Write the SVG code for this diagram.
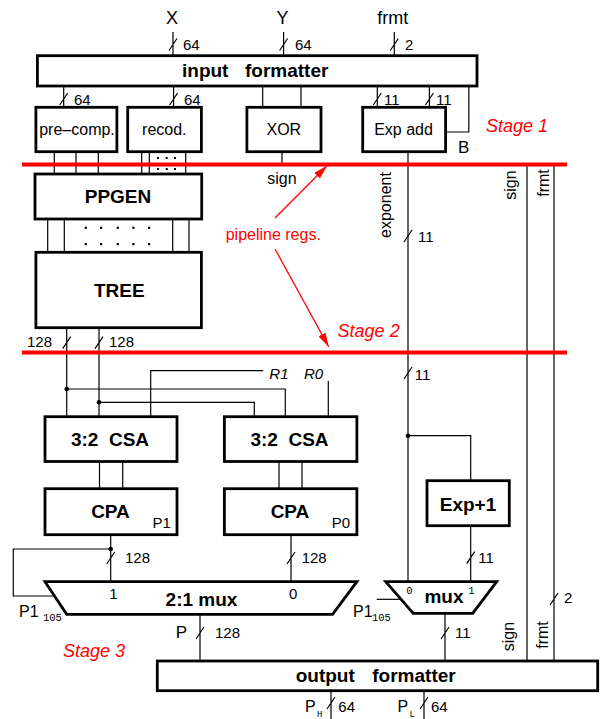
<svg xmlns="http://www.w3.org/2000/svg" width="605" height="719" viewBox="0 0 605 719">
<defs>
<style>
.box{fill:#fff;stroke:#000;stroke-width:2.8}
.w{fill:none;stroke:#000;stroke-width:1.2}
.reg{stroke:#f00;stroke-width:4}
.ar{fill:none;stroke:#f00;stroke-width:1.3}
text{font-family:"Liberation Sans",Arial,sans-serif;fill:#000}
.t{font-size:16px}
.n{font-size:15px}
.b{font-size:19px;font-weight:bold}
.big{font-size:18px}
.stg{font-size:18px;font-style:italic;fill:#f00}
.red{font-size:16px;fill:#f00}
.mono{font-family:"Liberation Mono","DejaVu Sans Mono",monospace;font-size:10.5px}
.m{text-anchor:middle}
.dot{fill:#000}
</style>
<marker id="ah" markerUnits="userSpaceOnUse" viewBox="0 0 14 8" refX="14" refY="4" markerWidth="14" markerHeight="8" orient="auto">
<path d="M0,0 L14,4 L0,8 z" fill="#f00"/>
</marker>
</defs>
<rect width="605" height="719" fill="#fff"/>

<g id="connectors">
<path class="w" d="M173,32 V55.7 M169,50.5 L177,38.5"/>
<path class="w" d="M283.6,32 V55.7 M279.6,50.5 L287.6,38.5"/>
<path class="w" d="M394.3,32 V55.7 M390.3,50.5 L398.3,38.5"/>
<path class="w" d="M63.7,86 V107.3 M59.7,105 L67.7,93"/>
<path class="w" d="M173.6,86 V107.3 M169.6,105 L177.6,93"/>
<path class="w" d="M262.7,86 V107.3 M301,86 V107.3"/>
<path class="w" d="M377.3,86 V107.3 M373.3,105 L381.3,93"/>
<path class="w" d="M429.4,86 V107.3 M425.4,105 L433.4,93"/>
<path class="w" d="M468.8,86 V132 H445.6"/>
<path class="w" d="M54.3,151.7 V174 M76,151.7 V174 M98.3,151.7 V174"/>
<path class="w" d="M141.7,151.7 V174 M149.3,151.7 V174 M185.7,151.7 V174"/>
<g class="dot">
<rect x="157" y="157" width="2" height="2"/><rect x="165.7" y="157" width="2" height="2"/><rect x="174" y="157" width="2" height="2"/>
<rect x="157" y="168" width="2" height="2"/><rect x="165.7" y="168" width="2" height="2"/><rect x="174" y="168" width="2" height="2"/>
</g>
<path class="w" d="M282,151.7 V164"/>
<path class="w" d="M47.7,219 V252.3 M64.3,219 V252.3 M172.7,219 V252.3 M189,219 V252.3"/>
<g class="dot">
<rect x="84.7" y="226.7" width="2.2" height="2.2"/><rect x="100" y="226.7" width="2.2" height="2.2"/><rect x="116.7" y="226.7" width="2.2" height="2.2"/><rect x="132.3" y="226.7" width="2.2" height="2.2"/><rect x="148" y="226.7" width="2.2" height="2.2"/>
<rect x="84.7" y="243" width="2.2" height="2.2"/><rect x="100" y="243" width="2.2" height="2.2"/><rect x="116.7" y="243" width="2.2" height="2.2"/><rect x="132.3" y="243" width="2.2" height="2.2"/><rect x="148" y="243" width="2.2" height="2.2"/>
</g>
<path class="w" d="M66.7,327.7 V416.7 M62.7,348.7 L70.7,336.7"/>
<path class="w" d="M99,327.7 V416.7 M95,348.7 L103,336.7"/>
<path class="w" d="M66.7,389 H285.3 V416.7"/>
<path class="w" d="M99,402.3 H254.3 V416.7"/>
<circle class="dot" cx="66.7" cy="389" r="2.3"/>
<circle class="dot" cx="99" cy="402.3" r="2.3"/>
<path class="w" d="M263.3,370.7 H150.7 V416.7"/>
<path class="w" d="M328.3,381 V416.7"/>
<path class="w" d="M99.5,461.5 V488.7 M122.7,461.5 V488.7 M279,461.5 V488.7 M302,461.5 V488.7"/>
<path class="w" d="M408,151.7 V581.7"/>
<path class="w" d="M404,242 L412,230 M404,379 L412,367"/>
<path class="w" d="M408,435.7 H470.7 V480.7"/>
<circle class="dot" cx="408" cy="435.7" r="2.3"/>
<path class="w" d="M470.7,525.7 V581.7 M466.7,563.7 L474.7,551.7"/>
<path class="w" d="M527,164 V661 M554,164 V661 M550,605 L558,593"/>
<path class="w" d="M110.7,534.7 V581.7 M106.7,564 L114.7,552"/>
<circle class="dot" cx="110.7" cy="549" r="2.3"/>
<path class="w" d="M110.7,549 H13.3 V596 H54"/>
<path class="w" d="M291,534.7 V581.7 M287,564 L295,552"/>
<path class="w" d="M200,614.3 V661 M196,639 L204,627"/>
<path class="w" d="M445,613.3 V661 M441,639 L449,627"/>
<path class="w" d="M376.7,599.3 H401"/>
<path class="w" d="M331,690.7 V719 M327,709 L335,697"/>
<path class="w" d="M424,690.7 V719 M420,709 L428,697"/>
<path class="reg" d="M22,164.5 H567"/>
<path class="reg" d="M22,352.5 H567"/>
<path class="ar" d="M275,218 L327,165.7" marker-end="url(#ah)"/>
<path class="ar" d="M275,249 L328.7,346.7" marker-end="url(#ah)"/>
</g>

<g id="input-formatter">
<rect class="box" x="37.4" y="55.7" width="439.6" height="30.3"/>
<text class="b" y="76.5"><tspan x="182">input</tspan><tspan x="245">formatter</tspan></text>
</g>
<g id="input-labels">
<text class="big m" x="172" y="24">X</text>
<text class="big m" x="282.5" y="24">Y</text>
<text class="big m" x="392.7" y="24">frmt</text>
<text class="n" x="183" y="50">64</text>
<text class="n" x="295" y="50">64</text>
<text class="n" x="405" y="50">2</text>
<text class="n" x="74" y="105">64</text>
<text class="n" x="184" y="105">64</text>
<text class="n" x="384" y="105">11</text>
<text class="n" x="436" y="105">11</text>
</g>
<g id="pre-comp">
<rect class="box" x="35.9" y="107.3" width="81" height="44.4"/>
<text class="t m" x="77" y="135">pre–comp.</text>
</g>
<g id="recod">
<rect class="box" x="127.7" y="107.3" width="73.7" height="44.4"/>
<text class="t m" x="164.3" y="135">recod.</text>
</g>
<g id="xor">
<rect class="box" x="246.9" y="107.3" width="74.1" height="44.4"/>
<text class="t m" x="283.8" y="135">XOR</text>
</g>
<g id="exp-add">
<rect class="box" x="362.7" y="107.3" width="82.9" height="44.4"/>
<text class="t m" x="403.5" y="135">Exp add</text>
<text style="font-size:17px" x="458" y="153">B</text>
</g>
<g id="ppgen">
<rect class="box" x="35" y="174" width="166.7" height="45"/>
<text class="b m" x="118" y="203">PPGEN</text>
</g>
<g id="tree">
<rect class="box" x="35.9" y="252.3" width="165.5" height="75.4"/>
<text class="b m" x="119.3" y="297">TREE</text>
</g>
<g id="csa1">
<rect class="box" x="45" y="416.7" width="132" height="44.8"/>
<text class="b m" x="110" y="445.7" xml:space="preserve">3:2  CSA</text>
</g>
<g id="csa0">
<rect class="box" x="224.4" y="416.7" width="132.5" height="44.8"/>
<text class="b m" x="289.5" y="445.7" xml:space="preserve">3:2  CSA</text>
</g>
<g id="cpa1">
<rect class="box" x="45" y="488.7" width="132" height="46"/>
<text class="b m" x="110.5" y="518">CPA</text>
<text class="n" x="152.4" y="528.3">P1</text>
</g>
<g id="cpa0">
<rect class="box" x="224.4" y="488.7" width="132.5" height="46"/>
<text class="b m" x="290" y="518">CPA</text>
<text class="n" x="331.8" y="528.3">P0</text>
</g>
<g id="exp-plus-1">
<rect class="box" x="427" y="480.7" width="82.3" height="45"/>
<text class="b m" x="468" y="510.7">Exp+1</text>
</g>
<g id="mux-2-1">
<polygon class="box" points="45,581.7 356.9,581.7 332.6,614.3 66.7,614.3"/>
<text class="n m" x="113.3" y="599">1</text>
<text class="n m" x="293.2" y="599">0</text>
<text class="b m" x="201.5" y="606">2:1 mux</text>
</g>
<g id="mux-exp">
<polygon class="box" points="385.7,581.7 496.7,581.7 472.7,613.3 413.3,613.3"/>
<text class="mono m" x="409.3" y="594">0</text>
<text class="mono m" x="471.3" y="594">1</text>
<text class="b m" x="444" y="603.3">mux</text>
</g>
<g id="output-formatter">
<rect class="box" x="157.3" y="661" width="440.4" height="29.7"/>
<text class="b" y="682.3"><tspan x="295.7">output</tspan><tspan x="372.3">formatter</tspan></text>
</g>
<g id="labels">
<text class="n" x="52" y="347" text-anchor="end">128</text>
<text class="n" x="109" y="347">128</text>
<text class="t" x="391" y="205" text-anchor="middle" transform="rotate(-90 391 205)">exponent</text>
<text class="t" x="515.5" y="185" text-anchor="middle" transform="rotate(-90 515.5 185)">sign</text>
<text class="t" x="549" y="183" text-anchor="middle" transform="rotate(-90 549 183)">frmt</text>
<text class="t" x="514" y="636.5" text-anchor="middle" transform="rotate(-90 514 636.5)">sign</text>
<text class="t" x="548" y="635" text-anchor="middle" transform="rotate(-90 548 635)">frmt</text>
<text class="t m" x="282" y="184">sign</text>
<text class="n" x="418" y="242">11</text>
<text class="n" x="414.7" y="380">11</text>
<text class="n" x="478.3" y="563.3">11</text>
<text class="n" x="125" y="563.3">128</text>
<text class="n" x="301.7" y="563.3">128</text>
<text class="n" x="564" y="603">2</text>
<text style="font-size:15px;font-style:italic" x="269.3" y="379.3">R1</text>
<text style="font-size:15px;font-style:italic" x="304" y="379.3">R0</text>
<text style="font-size:16px" x="19" y="617.3">P1</text>
<text class="mono" x="43" y="620.5">105</text>
<text style="font-size:16px" x="353" y="617">P1</text>
<text class="mono" x="372" y="620.5">105</text>
<text style="font-size:17px" x="175.7" y="638">P</text>
<text class="n" x="215" y="638">128</text>
<text class="n" x="455" y="638">11</text>
<text style="font-size:16px" x="305" y="711.7">P</text>
<text class="mono" style="font-size:9px" x="317" y="717">H</text>
<text class="n" x="338.3" y="711.7">64</text>
<text style="font-size:16px" x="397.5" y="711.7">P</text>
<text class="mono" style="font-size:9px" x="409.5" y="717">L</text>
<text class="n" x="431" y="711.7">64</text>
<text class="red" x="225.7" y="240">pipeline regs.</text>
<text class="stg" x="486" y="132">Stage 1</text>
<text class="stg" x="337.6" y="336.7">Stage 2</text>
<text class="stg" x="63" y="656.7">Stage 3</text>
</g>
</svg>
